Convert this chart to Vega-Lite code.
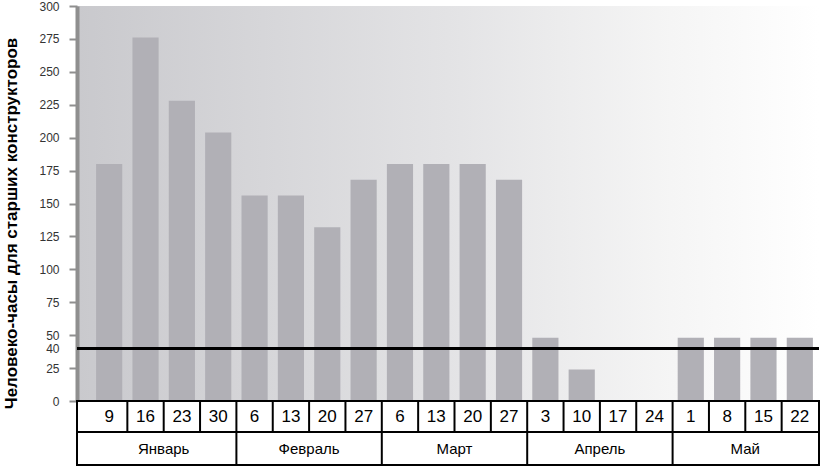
{
  "$schema": "https://vega.github.io/schema/vega-lite/v6.json",
  "padding": {"left": 2, "top": 0, "right": 0, "bottom": 0},
  "background": "white",
  "bounds": "flush",
  "spacing": 0,
  "resolve": {"scale": {"x": "independent"}},
  "config": {
    "view": {"stroke": null},
    "axisY": {
      "titleFont": "Liberation Sans",
      "titleFontSize": 17,
      "titleFontWeight": "bold",
      "titleColor": "black",
      "titlePadding": 18,
      "titleY": 217,
      "labelFont": "Liberation Sans",
      "labelFontSize": 12,
      "labelColor": "#333333",
      "labelPadding": 10,
      "labelOverlap": false,
      "domain": true,
      "domainColor": "#8f8f8f",
      "domainWidth": 4,
      "ticks": true,
      "tickWidth": 2,
      "tickSize": 8,
      "grid": false
    }
  },
  "datasets": {
    "weeks": [
      {"wk": "01-09", "day": "9", "month": "Январь", "hours": 180},
      {"wk": "01-16", "day": "16", "month": "Январь", "hours": 276},
      {"wk": "01-23", "day": "23", "month": "Январь", "hours": 228},
      {"wk": "01-30", "day": "30", "month": "Январь", "hours": 204},
      {"wk": "02-06", "day": "6", "month": "Февраль", "hours": 156},
      {"wk": "02-13", "day": "13", "month": "Февраль", "hours": 156},
      {"wk": "02-20", "day": "20", "month": "Февраль", "hours": 132},
      {"wk": "02-27", "day": "27", "month": "Февраль", "hours": 168},
      {"wk": "03-06", "day": "6", "month": "Март", "hours": 180},
      {"wk": "03-13", "day": "13", "month": "Март", "hours": 180},
      {"wk": "03-20", "day": "20", "month": "Март", "hours": 180},
      {"wk": "03-27", "day": "27", "month": "Март", "hours": 168},
      {"wk": "04-03", "day": "3", "month": "Апрель", "hours": 48},
      {"wk": "04-10", "day": "10", "month": "Апрель", "hours": 24},
      {"wk": "04-17", "day": "17", "month": "Апрель", "hours": 0},
      {"wk": "04-24", "day": "24", "month": "Апрель", "hours": 0},
      {"wk": "05-01", "day": "1", "month": "Май", "hours": 48},
      {"wk": "05-08", "day": "8", "month": "Май", "hours": 48},
      {"wk": "05-15", "day": "15", "month": "Май", "hours": 48},
      {"wk": "05-22", "day": "22", "month": "Май", "hours": 48}
    ],
    "months": [
      {"month": "Январь"},
      {"month": "Февраль"},
      {"month": "Март"},
      {"month": "Апрель"},
      {"month": "Май"}
    ]
  },
  "vconcat": [
    {
      "width": 742,
      "height": 395,
      "data": {"name": "weeks"},
      "view": {
        "stroke": null,
        "fill": {
          "gradient": "linear",
          "x1": 0, "y1": 0, "x2": 1, "y2": 0,
          "stops": [
            {"offset": 0, "color": "#c9c9cd"},
            {"offset": 0.5, "color": "#e3e3e5"},
            {"offset": 0.8, "color": "#f5f5f5"},
            {"offset": 1, "color": "#ffffff"}
          ]
        }
      },
      "layer": [
        {
          "mark": {"type": "bar", "color": "#b1b0b6"},
          "encoding": {
            "x": {
              "field": "wk", "type": "ordinal", "sort": null, "axis": null,
              "scale": {"range": [14, 741], "paddingInner": 0.28, "paddingOuter": 0.14}
            },
            "y": {
              "field": "hours", "type": "quantitative",
              "scale": {"domain": [0, 300], "nice": false},
              "axis": {
                "title": "Человеко-часы для старших конструкторов",
                "values": [0, 25, 40, 50, 75, 100, 125, 150, 175, 200, 225, 250, 275, 300],
                "tickColor": {"condition": {"test": "datum.value == 40", "value": "transparent"}, "value": "#8f8f8f"}
              }
            }
          }
        },
        {
          "mark": {"type": "rule", "color": "black", "strokeWidth": 2},
          "encoding": {
            "y": {
              "datum": 40, "type": "quantitative",
              "axis": {
                "title": "Человеко-часы для старших конструкторов",
                "values": [0, 25, 40, 50, 75, 100, 125, 150, 175, 200, 225, 250, 275, 300],
                "tickColor": {"condition": {"test": "datum.value == 40", "value": "transparent"}, "value": "#8f8f8f"}
              }
            }
          }
        }
      ]
    },
    {
      "width": 742,
      "height": 31,
      "data": {"name": "weeks"},
      "view": {"stroke": "black", "strokeWidth": 2, "fill": "white"},
      "layer": [
        {
          "mark": {"type": "text", "font": "Liberation Sans", "fontSize": 17, "color": "black", "baseline": "middle"},
          "encoding": {
            "x": {
              "field": "wk", "type": "ordinal", "sort": null, "axis": null,
              "scale": {"range": [14, 741], "paddingInner": 0, "paddingOuter": 0}
            },
            "text": {"field": "day"}
          }
        },
        {
          "transform": [{"filter": "datum.wk != '01-09'"}],
          "mark": {"type": "rule", "color": "black", "strokeWidth": 2},
          "encoding": {
            "x": {
              "field": "wk", "type": "ordinal", "sort": null, "axis": null, "bandPosition": 0,
              "scale": {"range": [14, 741], "paddingInner": 0, "paddingOuter": 0}
            }
          }
        }
      ]
    },
    {
      "width": 742,
      "height": 33,
      "data": {"name": "months"},
      "view": {"stroke": "black", "strokeWidth": 2, "fill": "white"},
      "layer": [
        {
          "mark": {"type": "text", "font": "Liberation Sans", "fontSize": 15, "color": "black", "baseline": "middle"},
          "encoding": {
            "x": {
              "field": "month", "type": "nominal", "sort": null, "axis": null,
              "scale": {"range": [14, 741], "paddingInner": 0, "paddingOuter": 0}
            },
            "text": {"field": "month"}
          }
        },
        {
          "transform": [{"filter": "datum.month != 'Январь'"}],
          "mark": {"type": "rule", "color": "black", "strokeWidth": 2},
          "encoding": {
            "x": {
              "field": "month", "type": "nominal", "sort": null, "axis": null, "bandPosition": 0,
              "scale": {"range": [14, 741], "paddingInner": 0, "paddingOuter": 0}
            }
          }
        }
      ]
    }
  ]
}
